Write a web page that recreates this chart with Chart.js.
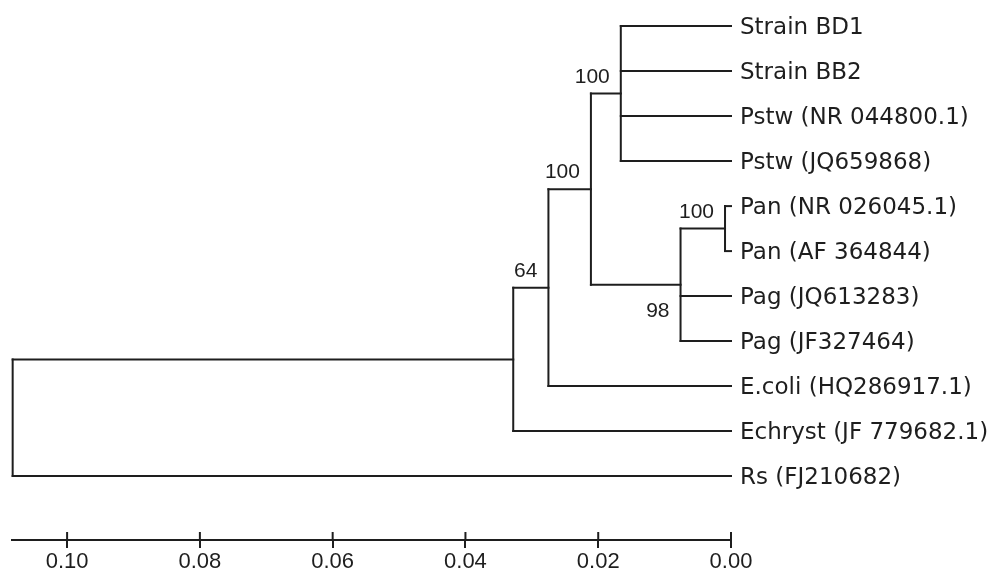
<!DOCTYPE html>
<html>
<head>
<meta charset="utf-8">
<script src="https://cdn.jsdelivr.net/npm/chart.js@4.4.0/dist/chart.umd.min.js"></script>
<style>
  body { margin: 0; background: #fff; }
  canvas { display: block; }
</style>
</head>
<body>
<canvas id="tree" width="1001" height="570"></canvas>
<script>
// leaves, top to bottom (ids 0..10)
const leafNames = [
  'Strain BD1',
  'Strain BB2',
  'Pstw (NR 044800.1)',
  'Pstw (JQ659868)',
  'Pan (NR 026045.1)',
  'Pan (AF 364844)',
  'Pag (JQ613283)',
  'Pag (JF327464)',
  'E.coli (HQ286917.1)',
  'Echryst (JF 779682.1)',
  'Rs (FJ210682)'
]
// internal nodes get ids 11.. in this order
const nodeHeights = [0.0166, 0.0009, 0.0076, 0.0211, 0.0275, 0.0328, 0.1082]
const nodeChildren = [[0, 1, 2, 3], [4, 5], [12, 6, 7], [11, 13], [14, 8], [15, 9], [16, 10]]
const bootstrap = [100, 100, 98, 100, 64, null, null]
const tickValues = [0, 0.02, 0.04, 0.06, 0.08, 0.10]

const leafCount = leafNames.length
const inkColor = '#1e1e1e'
const labelBelow = [2] // the 98 sits under its branch

const nodeX = id => id < leafCount ? 0 : nodeHeights[id - leafCount]
const rowY = leafNames.map((n, i) => i)
nodeChildren.forEach((kids, i) => {
  rowY[leafCount + i] = (rowY[kids[0]] + rowY[kids[kids.length - 1]]) / 2
})

// one vertical per node, one horizontal per child
const segments = []
nodeChildren.forEach((kids, i) => {
  const h = nodeHeights[i]
  segments.push([{x: h, y: rowY[kids[0]]}, {x: h, y: rowY[kids[kids.length - 1]]}])
  kids.forEach(k => segments.push([{x: h, y: rowY[k]}, {x: nodeX(k), y: rowY[k]}]))
})

const treeLabels = {
  id: 'treeLabels',
  afterDatasetsDraw(chart) {
    const {ctx, scales: {x, y}} = chart
    ctx.save()
    ctx.fillStyle = inkColor
    ctx.textBaseline = 'alphabetic'

    ctx.font = '23px "DejaVu Sans"'
    ctx.textAlign = 'left'
    leafNames.forEach((name, i) => {
      ctx.fillText(name, x.getPixelForValue(0) + 9, y.getPixelForValue(i) + 8)
    })

    ctx.font = '21px "Liberation Sans"'
    ctx.textAlign = 'right'
    bootstrap.forEach((b, i) => {
      if (b == null) return
      const px = x.getPixelForValue(nodeHeights[i]) - 11
      const py = y.getPixelForValue(rowY[leafCount + i])
      ctx.fillText(String(b), px, labelBelow.includes(i) ? py + 32 : py - 11)
    })

    // upper half of the scale bar ticks
    ctx.strokeStyle = inkColor
    ctx.lineWidth = 2
    tickValues.forEach(v => {
      const px = x.getPixelForValue(v)
      ctx.beginPath()
      ctx.moveTo(px, x.top - 8)
      ctx.lineTo(px, x.top)
      ctx.stroke()
    })
    ctx.restore()
  }
}

new Chart(document.getElementById('tree'), {
  type: 'scatter',
  data: {
    datasets: segments.map(seg => ({
      data: seg,
      showLine: true,
      borderColor: inkColor,
      borderWidth: 2,
      borderCapStyle: 'square',
      pointRadius: 0,
      clip: false
    }))
  },
  options: {
    responsive: false,
    animation: false,
    layout: { padding: { left: 12, right: 270, top: 0, bottom: 0 } },
    plugins: { legend: { display: false }, tooltip: { enabled: false } },
    scales: {
      x: {
        type: 'linear',
        reverse: true,
        min: 0,
        max: 0.1083,
        afterBuildTicks: s => { s.ticks = tickValues.map(v => ({value: v})) },
        afterFit: s => { s.height = 30; s.paddingLeft = 0; s.paddingRight = 0 },
        grid: { drawOnChartArea: false, drawTicks: true, tickLength: 8, color: inkColor, lineWidth: 2 },
        border: { color: inkColor, width: 2 },
        ticks: {
          padding: 1,
          color: inkColor,
          font: { family: 'Liberation Sans', size: 22 },
          maxRotation: 0,
          autoSkip: false,
          callback: v => v.toFixed(2)
        }
      },
      y: { type: 'linear', display: false, reverse: true, min: -0.58, max: 11.42 }
    }
  },
  plugins: [treeLabels]
})
</script>
</body>
</html>
